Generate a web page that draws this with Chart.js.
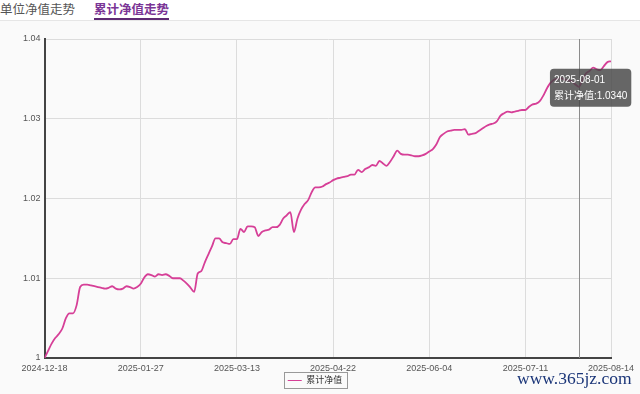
<!DOCTYPE html>
<html>
<head>
<meta charset="utf-8">
<script src="https://cdn.jsdelivr.net/npm/chart.js@4.4.1/dist/chart.umd.min.js"></script>
<style>
    html, body {
        margin: 0;
        padding: 0;
        width: 640px;
        height: 394px;
        overflow: hidden;
        background: #fafafa;
        font-family: "Noto Sans CJK SC", sans-serif;
    }
    .tabs {
        position: absolute;
        left: 0;
        top: 0;
        width: 640px;
        height: 20px;
        background: #fff;
        border-bottom: 1px solid #e6e6e6;
        z-index: 2;
    }
    .tab {
        position: absolute;
        top: 0;
        font-size: 12.5px;
        line-height: 17px;
        color: #555;
        white-space: nowrap;
    }
    .tab.active {
        color: #7a3596;
        font-weight: bold;
        border-bottom: 2px solid #5e2a73;
        height: 18px;
    }
    #nav-chart {
        position: absolute;
        left: 0;
        top: 0;
    }
    .watermark {
        position: absolute;
        left: 517px;
        top: 368px;
        font-family: "Liberation Serif", "DejaVu Serif", serif;
        font-size: 17.5px;
        color: #1a3578;
        white-space: nowrap;
    }
</style>
</head>
<body>
<div class="tabs">
    <span class="tab" style="left:0">单位净值走势</span>
    <span class="tab active" style="left:94px">累计净值走势</span>
</div>
<canvas id="nav-chart" width="640" height="394"></canvas>
<div class="watermark">www.365jz.com</div>
<script>
// trading calendar of the fund (SSE closed on these weekdays)
const firstDay = "2024-12-18";
const lastDay = "2025-08-14";
const holidays = [
    "2025-01-01",
    "2025-01-28", "2025-01-29", "2025-01-30", "2025-01-31", "2025-02-03", "2025-02-04",
    "2025-04-04",
    "2025-05-01", "2025-05-02", "2025-05-05",
    "2025-06-02",
];

// 累计净值, one value per trading day
const navValues = [
    1.0000, 1.0009, 1.0018, 1.0025, 1.0030, 1.0037, 1.0050, 1.0056, 1.0056, 1.0066,
    1.0089, 1.0092, 1.0092, 1.0091, 1.0090, 1.0089, 1.0088, 1.0087, 1.0088, 1.0090,
    1.0087, 1.0086, 1.0087, 1.0090, 1.0089, 1.0087, 1.0089, 1.0093, 1.0101, 1.0105,
    1.0104, 1.0102, 1.0105, 1.0104, 1.0105, 1.0103, 1.0100, 1.0100, 1.0100, 1.0097,
    1.0093, 1.0088, 1.0083, 1.0106, 1.0109, 1.0120, 1.0130, 1.0140, 1.0150, 1.0150,
    1.0145, 1.0144, 1.0143, 1.0149, 1.0149, 1.0162, 1.0158, 1.0165, 1.0165, 1.0164,
    1.0153, 1.0158, 1.0160, 1.0161, 1.0164, 1.0164, 1.0167, 1.0175, 1.0179, 1.0183,
    1.0158, 1.0175, 1.0186, 1.0193, 1.0198, 1.0208, 1.0214, 1.0214, 1.0215, 1.0218,
    1.0220, 1.0223, 1.0225, 1.0226, 1.0227, 1.0228, 1.0230, 1.0230, 1.0236, 1.0233,
    1.0237, 1.0239, 1.0242, 1.0241, 1.0247, 1.0244, 1.0241, 1.0246, 1.0253, 1.0260,
    1.0256, 1.0255, 1.0255, 1.0254, 1.0253, 1.0253, 1.0254, 1.0256, 1.0259, 1.0262,
    1.0268, 1.0277, 1.0281, 1.0284, 1.0285, 1.0286, 1.0286, 1.0286, 1.0287, 1.0280,
    1.0281, 1.0282, 1.0285, 1.0288, 1.0291, 1.0293, 1.0294, 1.0297, 1.0304, 1.0307,
    1.0309, 1.0308, 1.0309, 1.0310, 1.0311, 1.0311, 1.0315, 1.0318, 1.0319, 1.0322,
    1.0329, 1.0338, 1.0345, 1.0349, 1.0350, 1.0351, 1.0349, 1.0348, 1.0347, 1.0343,
    1.0340, 1.0349, 1.0357, 1.0360, 1.0364, 1.0362, 1.0361, 1.0366, 1.0371, 1.0372,
];

const xTickDates = ["2024-12-18", "2025-01-27", "2025-03-13", "2025-04-22", "2025-06-04", "2025-07-11", "2025-08-14"];
const yTicks = [1, 1.01, 1.02, 1.03, 1.04];
const hoverDate = "2025-08-01";
const seriesName = "累计净值";

const buildTradeDates = (start, end, closed) => {
    const out = [];
    const d = new Date(start + "T00:00:00Z");
    const stop = new Date(end + "T00:00:00Z");
    while (d <= stop) {
        const s = d.toISOString().slice(0, 10);
        const wd = d.getUTCDay();
        if (wd !== 0 && wd !== 6 && !closed.includes(s)) {
            out.push(s);
        }
        d.setUTCDate(d.getUTCDate() + 1);
    }
    return out;
};
const tradeDates = buildTradeDates(firstDay, lastDay, holidays);

const FONT = '"Liberation Sans", "Noto Sans CJK SC", sans-serif';

Chart.Tooltip.positioners.navFixed = function (elements) {
    if (!elements.length) {
        return false;
    }
    const el = elements[0].element;
    return { x: el.x - 25, y: el.y - 18 };
};

const crosshair = {
    id: "crosshair",
    beforeDatasetsDraw(chart) {
        const active = chart.tooltip.getActiveElements();
        if (!active.length) return;
        const ctx = chart.ctx;
        const x = Math.round(active[0].element.x) + 0.5;
        ctx.save();
        ctx.strokeStyle = "#8c8c8c";
        ctx.lineWidth = 1;
        ctx.beginPath();
        ctx.moveTo(x, chart.chartArea.top);
        ctx.lineTo(x, chart.chartArea.bottom);
        ctx.stroke();
        ctx.restore();
    },
};

const legendBorder = {
    id: "legendBorder",
    afterDraw(chart) {
        const box = chart.legend.legendHitBoxes[0];
        if (!box) return;
        const ctx = chart.ctx;
        ctx.save();
        ctx.strokeStyle = "#999";
        ctx.lineWidth = 1;
        ctx.strokeRect(Math.round(box.left) - 3.5, Math.round(box.top) - 3.5, Math.round(box.width) + 8, Math.round(box.height) + 7);
        ctx.restore();
    },
};

const initChart = () => {
    const ctx = document.querySelector("#nav-chart");

    return new Chart(ctx, {
        type: "line",
        data: {
            datasets: [
                {
                    label: seriesName,
                    data: navValues.map((v, i) => ({ x: i, y: v })),
                    borderColor: "#d63f97",
                    backgroundColor: "#d63f97",
                    borderWidth: 1.8,
                    pointRadius: 0,
                    pointHoverRadius: 0,
                    cubicInterpolationMode: "monotone",
                },
            ],
        },
        options: {
            responsive: false,
            animation: false,
            devicePixelRatio: 1,
            layout: {
                padding: { top: 39, left: 19, right: 29, bottom: 0 },
            },
            interaction: { mode: "index", intersect: false },
            scales: {
                x: {
                    type: "linear",
                    min: 0,
                    max: tradeDates.length - 1,
                    afterBuildTicks: (scale) => {
                        scale.ticks = xTickDates.map((d) => ({ value: tradeDates.indexOf(d) }));
                    },
                    afterFit: (scale) => {
                        scale.height = 14;
                    },
                    grid: { color: "#dcdcdc", drawTicks: false },
                    border: { color: "#444", width: 2 },
                    ticks: {
                        autoSkip: false,
                        maxRotation: 0,
                        padding: 5,
                        color: "#555",
                        font: { family: FONT, size: 9 },
                        callback: (value) => tradeDates[value],
                    },
                },
                y: {
                    min: yTicks[0],
                    max: yTicks[yTicks.length - 1],
                    afterBuildTicks: (scale) => {
                        scale.ticks = yTicks.map((v) => ({ value: v }));
                    },
                    grid: { color: "#dcdcdc", drawTicks: false },
                    border: { color: "#444", width: 2 },
                    ticks: {
                        padding: 4,
                        color: "#555",
                        font: { family: FONT, size: 9 },
                        callback: (value) => String(Number(value.toFixed(2))),
                    },
                },
            },
            plugins: {
                legend: {
                    position: "bottom",
                    maxHeight: 22,
                    labels: {
                        usePointStyle: true,
                        pointStyleWidth: 14,
                        padding: 4,
                        color: "#333",
                        font: { family: FONT, size: 9 },
                        generateLabels: (chart) => {
                            const items = Chart.defaults.plugins.legend.labels.generateLabels(chart);
                            items.forEach((it) => {
                                it.pointStyle = "line";
                                it.lineWidth = 1;
                            });
                            return items;
                        },
                    },
                },
                tooltip: {
                    position: "navFixed",
                    xAlign: "left",
                    yAlign: "top",
                    caretSize: 0,
                    caretPadding: 0,
                    cornerRadius: 4,
                    backgroundColor: "rgba(70,70,70,0.82)",
                    displayColors: false,
                    padding: { left: 4, right: 4, top: 5, bottom: 5 },
                    titleColor: "#fff",
                    bodyColor: "#fff",
                    titleFont: { family: FONT, size: 10, weight: "normal" },
                    bodyFont: { family: FONT, size: 10 },
                    titleMarginBottom: 4,
                    callbacks: {
                        title: (items) => tradeDates[items[0].parsed.x],
                        label: (item) => seriesName + ":" + item.parsed.y.toFixed(4),
                    },
                },
            },
        },
        plugins: [crosshair, legendBorder],
    });
};

const navChart = initChart();
navChart.tooltip.setActiveElements([{ datasetIndex: 0, index: tradeDates.indexOf(hoverDate) }], { x: 0, y: 0 });
navChart.update();
</script>
</body>
</html>
